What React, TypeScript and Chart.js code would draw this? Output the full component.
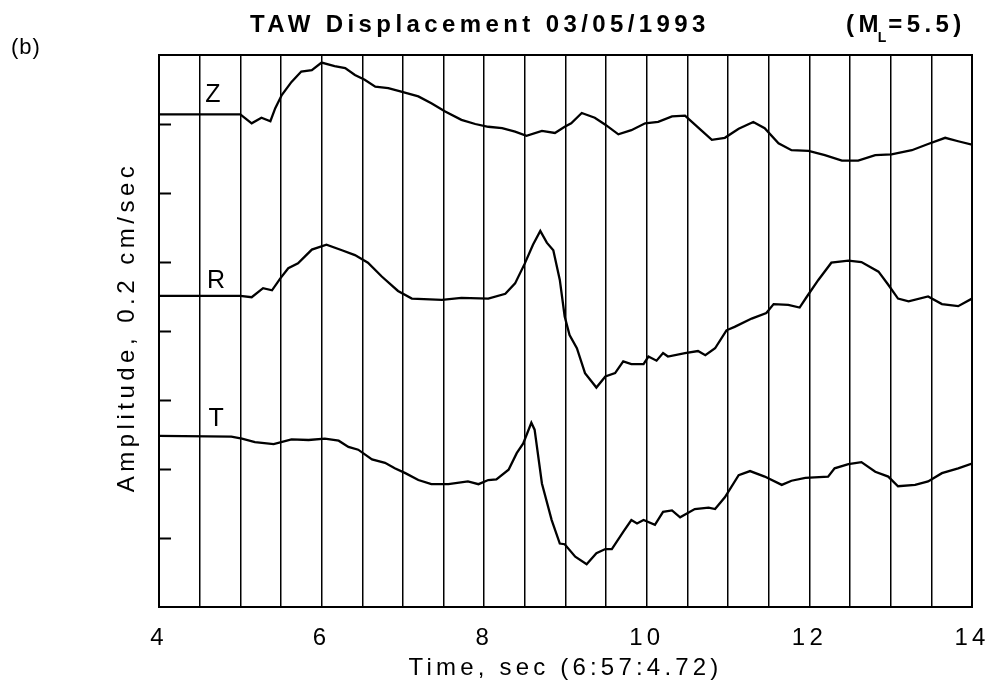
import React, { useEffect, useRef } from 'react';
import { Chart, registerables } from 'chart.js';

Chart.register(...registerables);

// ---- Seismogram traces (time in seconds, amplitude in units of 0.2 cm/sec) ----
const zTime = [4.0, 5.0, 5.14, 5.26, 5.37, 5.43, 5.51, 5.63, 5.75, 5.88, 6.0, 6.16, 6.29, 6.41, 6.53, 6.66, 6.82, 6.98, 7.19, 7.35, 7.52, 7.72, 7.89, 8.05, 8.22, 8.38, 8.52, 8.71, 8.87, 8.99, 9.07, 9.2, 9.36, 9.49, 9.65, 9.81, 9.98, 10.14, 10.31, 10.47, 10.64, 10.8, 10.96, 11.13, 11.31, 11.45, 11.62, 11.78, 11.99, 12.19, 12.4, 12.6, 12.81, 13.01, 13.26, 13.46, 13.67, 13.83, 14.0];
const zAmp = [7.14, 7.14, 7.01, 7.09, 7.04, 7.23, 7.42, 7.61, 7.76, 7.78, 7.89, 7.84, 7.81, 7.71, 7.64, 7.54, 7.52, 7.47, 7.4, 7.3, 7.18, 7.06, 7.0, 6.96, 6.94, 6.89, 6.83, 6.9, 6.87, 6.96, 7.01, 7.16, 7.09, 6.99, 6.85, 6.91, 7.01, 7.03, 7.11, 7.12, 6.94, 6.77, 6.8, 6.93, 7.03, 6.94, 6.72, 6.62, 6.61, 6.55, 6.47, 6.47, 6.55, 6.56, 6.62, 6.71, 6.8, 6.75, 6.7];

const rTime = [4.0, 5.0, 5.14, 5.28, 5.39, 5.49, 5.59, 5.71, 5.88, 6.06, 6.25, 6.41, 6.57, 6.74, 6.94, 7.11, 7.48, 7.72, 8.05, 8.26, 8.38, 8.5, 8.6, 8.69, 8.77, 8.85, 8.93, 8.99, 9.05, 9.14, 9.24, 9.38, 9.49, 9.61, 9.71, 9.81, 9.96, 10.02, 10.12, 10.2, 10.26, 10.47, 10.63, 10.72, 10.84, 10.98, 11.08, 11.29, 11.47, 11.56, 11.74, 11.88, 11.97, 12.11, 12.27, 12.48, 12.64, 12.85, 12.97, 13.09, 13.22, 13.46, 13.63, 13.83, 14.0];
const rAmp = [4.51, 4.51, 4.49, 4.62, 4.59, 4.76, 4.91, 4.98, 5.18, 5.25, 5.17, 5.1, 4.99, 4.79, 4.58, 4.47, 4.45, 4.48, 4.47, 4.54, 4.69, 4.98, 5.25, 5.45, 5.28, 5.17, 4.74, 4.21, 3.94, 3.75, 3.39, 3.18, 3.34, 3.39, 3.56, 3.52, 3.52, 3.63, 3.57, 3.68, 3.63, 3.68, 3.71, 3.65, 3.75, 4.01, 4.06, 4.18, 4.26, 4.39, 4.38, 4.34, 4.5, 4.74, 4.99, 5.02, 5.0, 4.86, 4.67, 4.47, 4.43, 4.5, 4.39, 4.36, 4.47];

const tTime = [4.0, 4.89, 5.02, 5.18, 5.41, 5.63, 5.84, 6.04, 6.21, 6.33, 6.45, 6.62, 6.78, 6.9, 7.03, 7.19, 7.35, 7.56, 7.8, 7.93, 8.05, 8.15, 8.3, 8.4, 8.48, 8.58, 8.62, 8.71, 8.83, 8.93, 8.99, 9.12, 9.26, 9.38, 9.49, 9.57, 9.71, 9.81, 9.88, 9.96, 10.1, 10.2, 10.31, 10.41, 10.59, 10.76, 10.84, 10.96, 11.13, 11.27, 11.45, 11.66, 11.78, 11.95, 12.23, 12.31, 12.48, 12.64, 12.81, 12.97, 13.09, 13.3, 13.46, 13.63, 13.83, 14.0];
const tAmp = [2.48, 2.47, 2.44, 2.39, 2.36, 2.43, 2.42, 2.44, 2.41, 2.32, 2.28, 2.14, 2.09, 2.01, 1.94, 1.84, 1.78, 1.78, 1.82, 1.78, 1.84, 1.85, 1.99, 2.23, 2.37, 2.67, 2.57, 1.79, 1.26, 0.92, 0.91, 0.73, 0.62, 0.78, 0.84, 0.84, 1.09, 1.26, 1.21, 1.26, 1.19, 1.38, 1.4, 1.3, 1.42, 1.44, 1.42, 1.59, 1.91, 1.97, 1.89, 1.77, 1.83, 1.87, 1.89, 2.01, 2.07, 2.1, 1.96, 1.89, 1.75, 1.77, 1.82, 1.94, 2.01, 2.08];

// Component names written above each trace, anchored in data units
const traceNames = ['Z', 'R', 'T'];
const traceLabelTime = [4.57, 4.59, 4.61];
const traceLabelAmp = [7.32, 4.62, 2.62];

// Axes
const timeMin = 4;
const timeMax = 14;
const timeGridStep = 0.5;
const timeLabelValues = [4, 6, 8, 10, 12, 14];
const ampMin = 0;
const ampMax = 8;
const ampTickValues = [1, 2, 3, 4, 5, 6, 7];

const titleMain = 'TAW Displacement 03/05/1993';
const titleMagOpen = '(M';
const titleMagSub = 'L';
const titleMagClose = '=5.5)';
const panelTag = '(b)';
const xAxisTitle = 'Time, sec (6:57:4.72)';
const yAxisTitle = 'Amplitude, 0.2 cm/sec';

const FAMILY = '"Liberation Sans", Arial, Helvetica, sans-serif';
const SPACING = '4.2px';

const zip = (xs: number[], ys: number[]) => xs.map((x, i) => ({ x, y: ys[i] }));

const decorations = {
  id: 'decorations',
  beforeDraw(chart: any) {
    // widely spaced plotter-style lettering for the built-in axis texts
    (chart.ctx as any).letterSpacing = SPACING;
  },
  afterDraw(chart: any) {
    const ctx = chart.ctx as CanvasRenderingContext2D & { letterSpacing: string };
    const { left, right, top, bottom } = chart.chartArea;
    const xs = chart.scales.x;
    const ys = chart.scales.y;

    ctx.save();
    // frame
    ctx.strokeStyle = '#000';
    ctx.lineWidth = 2;
    ctx.strokeRect(left, top, right - left, bottom - top);

    // inward amplitude ticks on the left edge
    ctx.lineWidth = 2;
    ctx.beginPath();
    ampTickValues.forEach((v) => {
      const py = Math.round(ys.getPixelForValue(v)) + 0.5;
      ctx.moveTo(left, py);
      ctx.lineTo(left + 12, py);
    });
    ctx.stroke();

    // trace names
    ctx.fillStyle = '#000';
    ctx.letterSpacing = '0px';
    ctx.font = `25px ${FAMILY}`;
    ctx.textAlign = 'left';
    ctx.textBaseline = 'alphabetic';
    traceNames.forEach((name, i) => {
      ctx.fillText(name, xs.getPixelForValue(traceLabelTime[i]), ys.getPixelForValue(traceLabelAmp[i]));
    });

    // main title with magnitude subscript
    ctx.letterSpacing = '4.4px';
    ctx.font = `bold 24px ${FAMILY}`;
    ctx.fillText(titleMain, 250, 32);
    let cx = 846;
    ctx.fillText(titleMagOpen, cx, 32);
    cx += ctx.measureText(titleMagOpen).width - 5;
    ctx.letterSpacing = '0px';
    ctx.font = `bold 14px ${FAMILY}`;
    ctx.fillText(titleMagSub, cx, 42);
    cx += ctx.measureText(titleMagSub).width + 2;
    ctx.letterSpacing = '4.4px';
    ctx.font = `bold 24px ${FAMILY}`;
    ctx.fillText(titleMagClose, cx, 32);

    // panel tag
    ctx.letterSpacing = '1px';
    ctx.font = `22px ${FAMILY}`;
    ctx.fillText(panelTag, 11, 54);

    // vertical axis title
    ctx.letterSpacing = '4.5px';
    ctx.translate(127, (top + bottom) / 2 - 4);
    ctx.rotate(-Math.PI / 2);
    ctx.textAlign = 'center';
    ctx.textBaseline = 'middle';
    ctx.font = `24px ${FAMILY}`;
    ctx.fillText(yAxisTitle, 0, 0);
    ctx.restore();
  },
};

export default function App() {
  const canvasRef = useRef<HTMLCanvasElement | null>(null);

  useEffect(() => {
    const canvas = canvasRef.current;
    if (!canvas) return;
    const lineStyle = { borderColor: '#000', borderWidth: 2.3, pointRadius: 0, tension: 0, fill: false };
    const chart = new Chart(canvas, {
      type: 'line',
      data: {
        datasets: [
          { label: 'Z', data: zip(zTime, zAmp), ...lineStyle },
          { label: 'R', data: zip(rTime, rAmp), ...lineStyle },
          { label: 'T', data: zip(tTime, tAmp), ...lineStyle },
        ],
      },
      options: {
        animation: false,
        responsive: false,
        maintainAspectRatio: false,
        devicePixelRatio: 1,
        layout: { padding: { left: 159, right: 16, top: 55, bottom: 0 } },
        plugins: {
          legend: { display: false },
          tooltip: { enabled: false },
          title: { display: false },
        },
        scales: {
          x: {
            type: 'linear',
            min: timeMin,
            max: timeMax,
            afterFit: (scale: any) => {
              scale.height = 79;
              scale.paddingLeft = 0;
              scale.paddingRight = 0;
            },
            ticks: {
              stepSize: timeGridStep,
              autoSkip: false,
              maxRotation: 0,
              padding: 17,
              color: '#000',
              font: { family: FAMILY, size: 24 },
              callback: (v: any) => (timeLabelValues.includes(Number(v)) ? String(v) : ''),
            },
            grid: { color: '#000', lineWidth: 1.5, drawTicks: false },
            border: { color: '#000', width: 2 },
            title: {
              display: true,
              text: xAxisTitle,
              color: '#000',
              font: { family: FAMILY, size: 24 },
              padding: { top: 0, bottom: 3 },
            },
          },
          y: {
            type: 'linear',
            display: false,
            min: ampMin,
            max: ampMax,
          },
        },
      },
      plugins: [decorations],
    });
    return () => chart.destroy();
  }, []);

  return (
    <div style={{ position: 'absolute', left: 0, top: 0, width: 988, height: 686, background: '#fff' }}>
      <canvas ref={canvasRef} width={988} height={686} style={{ display: 'block', width: 988, height: 686 }} />
    </div>
  );
}
